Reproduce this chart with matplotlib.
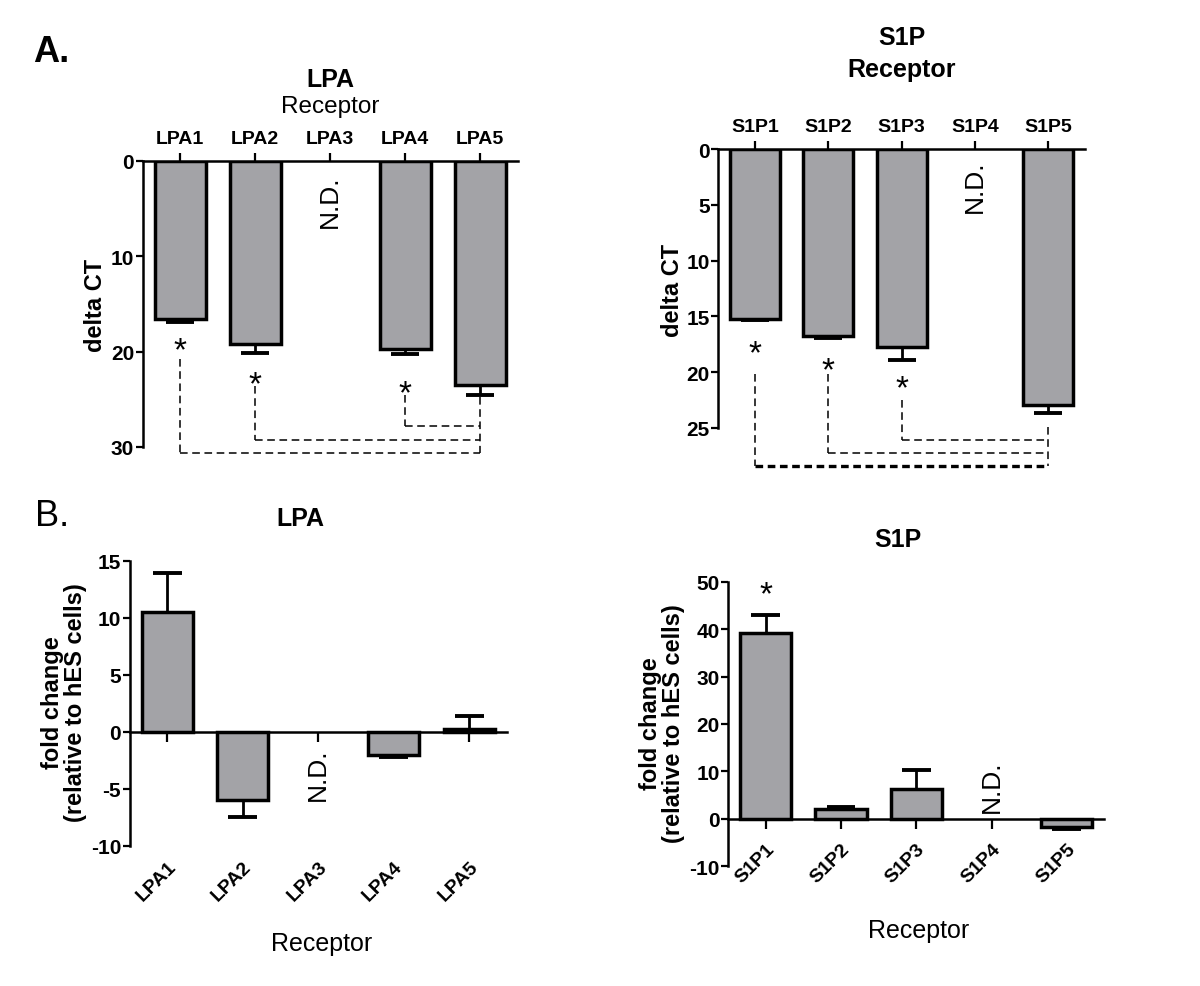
import numpy as np
import matplotlib
matplotlib.use("Agg")
import matplotlib.pyplot as plt

plt.rcParams['font.family'] = ['Liberation Sans', 'DejaVu Sans']

# ---- data ----
lpa_receptors = ['LPA1', 'LPA2', 'LPA3', 'LPA4', 'LPA5']
s1p_receptors = ['S1P1', 'S1P2', 'S1P3', 'S1P4', 'S1P5']

# A. delta CT (N.D. = nan)
lpa_dct = [16.6, 19.2, np.nan, 19.7, 23.5]
lpa_dct_sem = [0.3, 0.9, np.nan, 0.6, 1.1]
s1p_dct = [15.2, 16.8, 17.7, np.nan, 22.9]
s1p_dct_sem = [0.15, 0.1, 1.2, np.nan, 0.8]

# significance stars + dashed brackets to the last receptor
lpa_star_idx = [0, 1, 3]
lpa_star_y = [18.9, 22.5, 23.4]
lpa_bracket_start = [20.8, 23.6, 24.6]
lpa_bracket_level = [30.6, 29.3, 27.8]
lpa_bracket_end = 24.8

s1p_star_idx = [0, 1, 2]
s1p_star_y = [17.5, 19.0, 20.6]
s1p_bracket_start = [20.2, 20.2, 22.5]
s1p_bracket_level = [28.4, 27.2, 26.1]
s1p_bracket_end = 24.9

# B. fold change relative to hES cells
lpa_fold = [10.5, -6.0, np.nan, -2.0, 0.2]
lpa_fold_sem = [3.4, 1.5, np.nan, 0.2, 1.2]
s1p_fold = [39.2, 2.1, 6.3, np.nan, -1.75]
s1p_fold_sem = [3.8, 0.4, 3.9, np.nan, 0.35]
s1p_fold_star_y = 49.2

W, H = 1200, 987
BAR_COLOR = '#a3a3a7'
BAR_W = 0.68
CAP_W = 0.38
DASH = (5, 3)


def px_box(left, top, right, bottom):
    return [left / W, 1 - bottom / H, (right - left) / W, (bottom - top) / H]


def ftext(x, y, s, **kw):
    fig.text(x / W, 1 - y / H, s, ha='center', va='center', **kw)


def star(ax, x, y):
    ax.annotate('*', (x, y), xytext=(0, -13), textcoords='offset points',
                ha='center', va='baseline', fontsize=24, annotation_clip=False)


def draw_bars(ax, vals, sems):
    x = np.arange(len(vals))
    v = np.array(vals, dtype=float)
    e = np.array(sems, dtype=float)
    ok = ~np.isnan(v)
    ax.bar(x[ok], v[ok], width=BAR_W, color=BAR_COLOR, edgecolor='black',
           linewidth=2.5, zorder=3)
    ends = v + np.sign(v) * e
    ax.vlines(x[ok], v[ok], ends[ok], color='black', lw=2, zorder=2)
    ax.hlines(ends[ok], x[ok] - CAP_W / 2, x[ok] + CAP_W / 2, color='black',
              lw=2.8, zorder=2)


def draw_brackets(ax, idx, star_y, start, level, end_y, target, lw_last=1.1):
    for k, (i, sy, y0, lev) in enumerate(zip(idx, star_y, start, level)):
        star(ax, i, sy)
        ax.plot([i, i], [y0, lev], color='black', lw=1.1, dashes=DASH,
                clip_on=False, zorder=1)
        lw = lw_last if k == 0 else 1.1
        # keep the dash length in points the same for thicker lines
        d = (DASH[0] * 1.1 / lw, DASH[1] * 1.1 / lw)
        ax.plot([i, target], [lev, lev], color='black', lw=lw, dashes=d,
                clip_on=False, zorder=1)
    ax.plot([target, target], [end_y, max(level)], color='black', lw=1.1,
            dashes=DASH, clip_on=False, zorder=1)


def style_top(ax, labels, ymax, yticks):
    ax.set_xlim(-0.5, 4.5)
    ax.set_ylim(ymax, 0)
    ax.xaxis.tick_top()
    ax.set_xticks(range(5))
    ax.set_xticklabels(labels, fontweight='bold', fontsize=14)
    ax.set_yticks(yticks)
    ax.set_yticklabels([str(t) for t in yticks], fontweight='bold', fontsize=15)
    for s in ['bottom', 'right']:
        ax.spines[s].set_visible(False)
    for s in ['top', 'left']:
        ax.spines[s].set_linewidth(1.8)
    ax.tick_params(axis='x', direction='out', length=6, width=1.6, pad=4)
    ax.tick_params(axis='y', direction='out', length=5, width=1.6, pad=1)
    ax.patch.set_alpha(0)


def style_bottom(ax, labels, ylim, yticks, pad):
    ax.set_xlim(-0.5, 4.5)
    ax.set_ylim(*ylim)
    ax.spines['bottom'].set_position(('data', 0))
    for s in ['top', 'right']:
        ax.spines[s].set_visible(False)
    for s in ['bottom', 'left']:
        ax.spines[s].set_linewidth(1.8)
    ax.set_xticks(range(5))
    ax.set_xticklabels(labels, fontweight='bold', fontsize=14, rotation=45,
                       ha='right', va='top', rotation_mode='anchor')
    ax.set_yticks(yticks)
    ax.set_yticklabels([str(t) for t in yticks], fontweight='bold', fontsize=15)
    ax.tick_params(axis='x', direction='out', length=7, width=1.6, pad=pad)
    ax.tick_params(axis='y', direction='out', length=5, width=1.6, pad=1)
    ax.patch.set_alpha(0)


fig = plt.figure(figsize=(12, 9.87), dpi=100)

# ---- A. LPA delta CT ----
ax1 = fig.add_axes(px_box(142.5, 161.7, 517.5, 448))
style_top(ax1, lpa_receptors, 30, [0, 10, 20, 30])
draw_bars(ax1, lpa_dct, lpa_dct_sem)
draw_brackets(ax1, lpa_star_idx, lpa_star_y, lpa_bracket_start,
              lpa_bracket_level, lpa_bracket_end, 4)
ax1.text(2, 4.2, 'N.D.', rotation=90, ha='center', va='center', fontsize=19)
ftext(330, 80, 'LPA', fontsize=18, fontweight='bold')
ftext(330, 107, 'Receptor', fontsize=17.5)
ftext(96, 305, 'delta CT', fontsize=17, fontweight='bold', rotation=90)

# ---- A. S1P delta CT ----
ax2 = fig.add_axes(px_box(718.3, 150, 1085, 429))
style_top(ax2, s1p_receptors, 25, [0, 5, 10, 15, 20, 25])
draw_bars(ax2, s1p_dct, s1p_dct_sem)
draw_brackets(ax2, s1p_star_idx, s1p_star_y, s1p_bracket_start,
              s1p_bracket_level, s1p_bracket_end, 4, lw_last=2.4)
ax2.text(3, 3.3, 'N.D.', rotation=90, ha='center', va='center', fontsize=19)
ftext(902, 38, 'S1P', fontsize=18, fontweight='bold')
ftext(902, 70, 'Receptor', fontsize=18, fontweight='bold')
ftext(672, 290, 'delta CT', fontsize=17, fontweight='bold', rotation=90)

# ---- B. LPA fold change ----
ax3 = fig.add_axes(px_box(129.5, 561.7, 507, 846.7))
style_bottom(ax3, lpa_receptors, (-10, 15), [-10, -5, 0, 5, 10, 15], pad=84)
draw_bars(ax3, lpa_fold, lpa_fold_sem)
ax3.text(2, -3.7, 'N.D.', rotation=90, ha='center', va='center', fontsize=19)
ftext(300, 519, 'LPA', fontsize=18, fontweight='bold')
ftext(64, 703, 'fold change\n(relative to hES cells)', fontsize=17,
      fontweight='bold', rotation=90, linespacing=1.0)
ftext(322, 944, 'Receptor', fontsize=18)

# ---- B. S1P fold change ----
ax4 = fig.add_axes(px_box(728.1, 582.7, 1104.4, 867.3))
style_bottom(ax4, s1p_receptors, (-10, 50), [-10, 0, 10, 20, 30, 40, 50], pad=8)
draw_bars(ax4, s1p_fold, s1p_fold_sem)
star(ax4, 0, s1p_fold_star_y)
ax4.text(3, 7.0, 'N.D.', rotation=90, ha='center', va='center', fontsize=19)
ftext(898, 540, 'S1P', fontsize=18, fontweight='bold')
ftext(662, 724, 'fold change\n(relative to hES cells)', fontsize=17,
      fontweight='bold', rotation=90, linespacing=1.0)
ftext(919, 931, 'Receptor', fontsize=18)

# panel letters
ftext(51, 53, 'A.', fontsize=26, fontweight='bold')
ftext(52, 517, 'B.', fontsize=26)

fig.savefig('out.png', dpi=100)
